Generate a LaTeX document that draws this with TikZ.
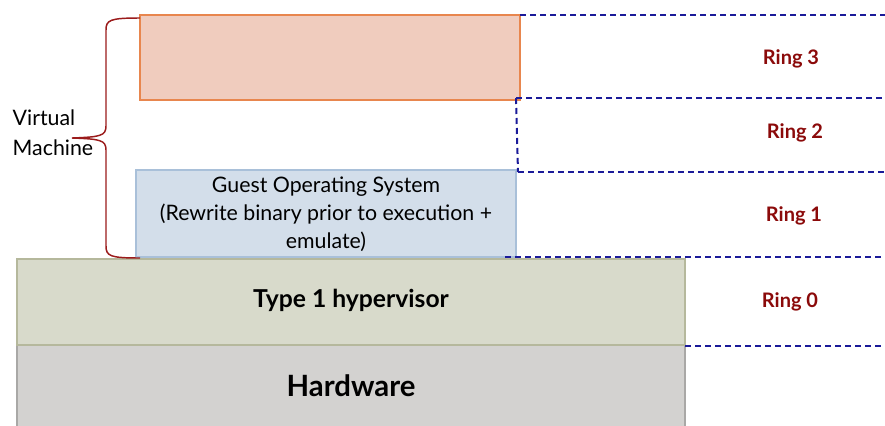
\documentclass[tikz,border=0pt]{standalone}
\usepackage{fontspec}
\setmainfont{Lato}
\definecolor{vmfill}{HTML}{F0CCBE}
\definecolor{vmline}{HTML}{E8864E}
\definecolor{osfill}{HTML}{D3DEEA}
\definecolor{osline}{HTML}{A9C0D9}
\definecolor{hvfill}{HTML}{D8DACB}
\definecolor{hvline}{HTML}{B5B89C}
\definecolor{hwfill}{HTML}{D3D2D0}
\definecolor{hwline}{HTML}{A9A8A6}
\definecolor{ringred}{HTML}{8B0A0A}
\definecolor{ringblue}{HTML}{1A1A99}
\definecolor{bracered}{HTML}{9B1B1B}
\tikzset{
  layer/.style={draw, line width=0.9pt},
  ringline/.style={draw=ringblue, dash pattern=on 4.5pt off 3pt, line width=1.5pt},
  ringlabel/.style={text=ringred, font=\fontsize{15}{17}\selectfont\bfseries},
}
\begin{document}
\begin{tikzpicture}[x=0.75pt, y=-0.75pt]
\useasboundingbox[fill=white] (0,0) rectangle (885,425);

% stacked layers
\path[layer, fill=hwfill, draw=hwline] (17,345) rectangle (685,440);
\path[layer, fill=hvfill, draw=hvline] (17,259) rectangle (685,345);
\path[layer, fill=osfill, draw=osline] (136,170) rectangle (516,257);
\path[layer, fill=vmfill, draw=vmline] (140,15) rectangle (520,100);

\node[font=\fontsize{22}{26}\selectfont\bfseries] (hw) at (351,386) {Hardware};
\node[font=\fontsize{18.5}{22}\selectfont\bfseries] (hv) at (351,300) {Type 1 hypervisor};
\node[align=center, font=\fontsize{16}{21}\selectfont] (os) at (326,214)
  {Guest Operating System\\(Rewrite binary prior to execution +\\emulate)};

% ring boundaries
\coordinate (r3a) at (520,15);  \coordinate (r3b) at (885,15);
\coordinate (r2a) at (516,98);  \coordinate (r2b) at (885,98);
\coordinate (r1a) at (518,172); \coordinate (r1b) at (885,172);
\coordinate (r0a) at (505,257); \coordinate (r0b) at (885,257);
\coordinate (rha) at (685,346); \coordinate (rhb) at (885,346);
\draw[ringline] (r3a) -- (r3b);
\draw[ringline] (r2a) -- (r2b);
\draw[ringline] (r2a) -- (r1a);
\draw[ringline] (r1a) -- (r1b);
\draw[ringline] (r0a) -- (r0b);
\draw[ringline] (rha) -- (rhb);

\node[ringlabel] (ring3) at (791,59) {Ring 3};
\node[ringlabel] (ring2) at (795,133) {Ring 2};
\node[ringlabel] (ring1) at (794,216) {Ring 1};
\node[ringlabel] (ring0) at (790,302) {Ring 0};

% virtual machine brace
\coordinate (btop) at (140,18);
\coordinate (bbot) at (140,258);
\coordinate (btip) at (72,138);
\draw[bracered, line width=1.1pt]
  (btop) .. controls (110,18) and (106,20) .. (106,30)
  -- (106,126) .. controls (106,136) and (100,137) .. (btip)
  (btip) .. controls (100,139) and (106,140) .. (106,150)
  -- (106,246) .. controls (106,256) and (110,258) .. (bbot);
\node[anchor=west, align=left, font=\fontsize{16}{22.5}\selectfont] (vm) at (8,133) {Virtual\\Machine};
\end{tikzpicture}
\end{document}
